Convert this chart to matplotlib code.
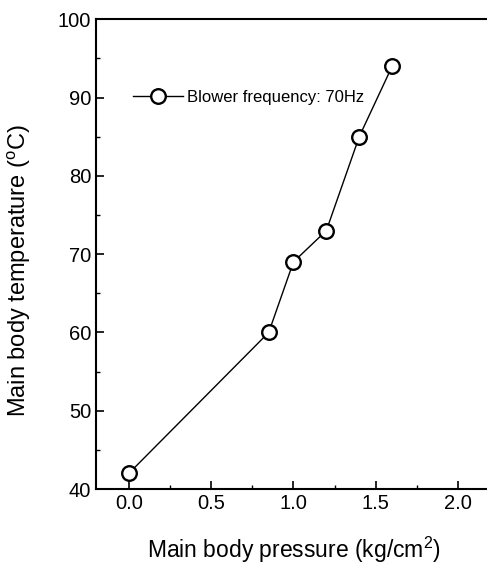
import matplotlib
matplotlib.use("Agg")
import matplotlib.pyplot as plt
from matplotlib.ticker import MultipleLocator

plt.rcParams['font.family'] = ['Liberation Sans', 'DejaVu Sans']
plt.rcParams['mathtext.fontset'] = 'custom'
plt.rcParams['mathtext.rm'] = 'Liberation Sans'

pressure = [0.0, 0.85, 1.0, 1.2, 1.4, 1.6]
temperature = [42, 60, 69, 73, 85, 94]
series_label = "Blower frequency: 70Hz"

fig = plt.figure(figsize=(4.87, 5.66), dpi=100)
ax = fig.add_axes([0.197, 0.136, 0.811, 0.830])

ax.plot(pressure, temperature, color='black', lw=1.0, marker='o', markersize=10.5,
        markerfacecolor='white', markeredgecolor='black', markeredgewidth=1.7,
        label=series_label)

ax.set_xlim(-0.2, 2.2)
ax.set_ylim(40, 100)
ax.xaxis.set_major_locator(MultipleLocator(0.5))
ax.xaxis.set_minor_locator(MultipleLocator(0.25))
ax.yaxis.set_major_locator(MultipleLocator(10))
ax.yaxis.set_minor_locator(MultipleLocator(5))
ax.tick_params(which='both', direction='in', top=False, right=False, labelsize=14.5)
ax.tick_params(which='major', length=6, width=1.2)
ax.tick_params(which='minor', length=3, width=1.0)
for s in ax.spines.values():
    s.set_linewidth(1.5)

ax.set_xlabel("Main body pressure (kg/cm$^{\\mathrm{2}}$)", fontsize=16.5, labelpad=16)
ax.set_ylabel("Main body temperature ($^{\\mathrm{o}}$C)", fontsize=17)
# label sits roughly 8-28 px from the left edge of the figure
ax.yaxis.set_label_coords(-0.16, 0.466)

ax.legend(loc='center left', bbox_to_anchor=(0.094, 0.834), frameon=False,
          fontsize=12, handlelength=3.0, handletextpad=0.25,
          borderpad=0, borderaxespad=0)

fig.savefig("out.png", dpi=100)
